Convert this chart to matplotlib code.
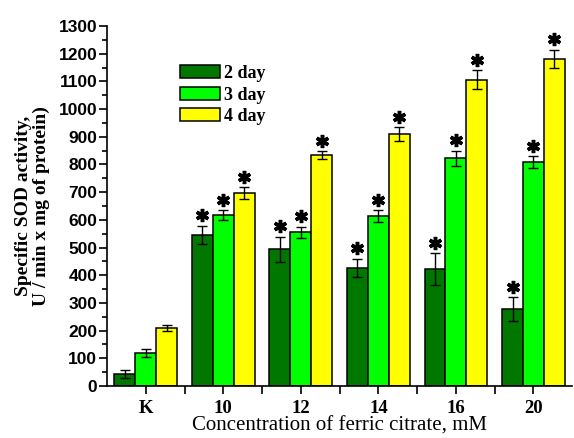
import matplotlib.pyplot as plt
from matplotlib.ticker import MultipleLocator
import numpy as np

# datos
categorias = ['K', '10', '12', '14', '16', '20']
dias = ['2 day', '3 day', '4 day']
dia2 = [43, 545, 494, 427, 422, 278]
dia3 = [119, 617, 555, 614, 822, 808]
dia4 = [209, 697, 834, 909, 1106, 1182]
err2 = [15, 33, 45, 33, 58, 42]
err3 = [15, 18, 20, 20, 27, 22]
err4 = [12, 20, 13, 25, 35, 32]
# asterisco de significancia (K sin asterisco)
signif = [False, True, True, True, True, True]

colores = ['#007800', '#00ff00', '#ffff00']

#%%
# - - - - - - - - - - - - - - - - - - - - - - - - - - - - - - - - - - - - - - - - - - - - - #
# Grafica de actividad SOD

fig = plt.figure(figsize=(5.74, 4.38), dpi=100)
ax = fig.add_axes([0.1864, 0.1187, 0.8105, 0.8219])

x = np.arange(len(categorias))
ancho = 0.27
series = [dia2, dia3, dia4]
errores = [err2, err3, err4]

for i in range(3):
    pos = x + (i - 1) * ancho
    ax.bar(pos, series[i], width=ancho, color=colores[i], edgecolor='black',
           linewidth=1.1, label=dias[i], zorder=2)
    ax.errorbar(pos, series[i], yerr=errores[i], fmt='none', ecolor='black',
                elinewidth=1, capsize=3.5, capthick=1, zorder=3)
    for j in range(len(categorias)):
        if signif[j]:
            ax.plot(pos[j], series[i][j] + errores[i][j] + 38, marker=(6, 2, 0),
                    markersize=9.5, markeredgewidth=2.5, color='black', zorder=4)

# Ejes
ax.set_xlim(-0.5, 5.5)
ax.set_ylim(0, 1300)
ax.spines['top'].set_visible(False)
ax.spines['right'].set_visible(False)
ax.spines['left'].set_linewidth(1.2)
ax.spines['bottom'].set_linewidth(1.2)

ax.yaxis.set_major_locator(MultipleLocator(100))
ax.yaxis.set_minor_locator(MultipleLocator(50))
ax.set_xticks(x)
ax.set_xticks(x[:-1] + 0.5, minor=True)
ax.set_xticklabels(categorias, fontfamily='Liberation Serif', fontweight='bold', fontsize=13.5)
for t in ax.get_yticklabels():
    t.set_fontfamily('Liberation Sans')
    t.set_fontweight('bold')
    t.set_fontsize(12.5)
ax.tick_params(axis='y', which='major', direction='out', length=6, width=1.2, pad=1)
ax.tick_params(axis='y', which='minor', direction='out', length=3.5, width=1.2)
ax.tick_params(axis='x', which='both', direction='out', length=6, width=1.2, pad=4)

# Titulos de ejes
ax.set_xlabel('Concentration of ferric citrate, mM', fontfamily='Liberation Serif',
              fontsize=15, labelpad=0)
ax.set_ylabel('Specific SOD activity,\nU / min x mg of protein)', fontfamily='Liberation Serif',
              fontsize=14, fontweight='bold', labelpad=6, linespacing=1.1)

# Leyenda
ax.legend(loc='upper left', bbox_to_anchor=(0.298, 0.872), bbox_transform=fig.transFigure,
          frameon=False, prop={'family': 'Liberation Serif', 'size': 13, 'weight': 'bold'},
          handlelength=2.2, handleheight=0.75, handletextpad=0.25, labelspacing=0.25,
          borderpad=0)

fig.savefig('out.png', dpi=100)
